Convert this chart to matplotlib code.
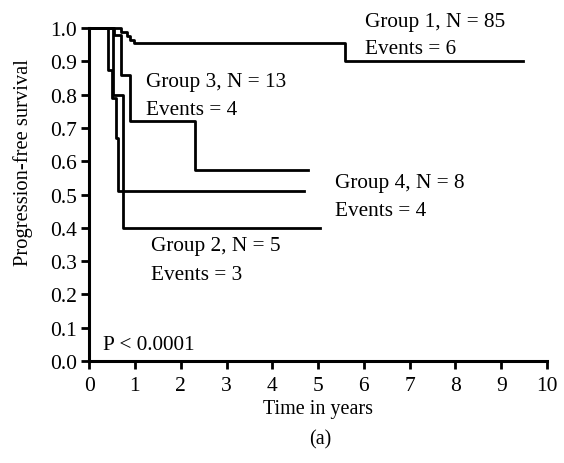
import matplotlib
matplotlib.use('Agg')
import matplotlib.pyplot as plt
import numpy as np

# Kaplan-Meier curves (time of step, survival after step)
g1_t = [0, 0.70, 0.82, 0.90, 0.97, 5.59, 9.48]
g1_s = [1.0, 0.988, 0.976, 0.964, 0.955, 0.90, 0.90]

g2_t = [0, 0.52, 0.74, 5.05]
g2_s = [1.0, 0.80, 0.40, 0.40]

g3_t = [0, 0.55, 0.69, 0.90, 2.31, 4.78]
g3_s = [1.0, 0.98, 0.86, 0.72, 0.575, 0.575]

g4_t = [0, 0.42, 0.50, 0.58, 0.62, 4.70]
g4_s = [1.0, 0.875, 0.79, 0.67, 0.51, 0.51]

curves = [(g1_t, g1_s), (g2_t, g2_s), (g3_t, g3_s), (g4_t, g4_s)]

labels = [
    ("Group 1, N = 85", "Events = 6", 6.03, 1.021, 0.937),
    ("Group 3, N = 13", "Events = 4", 1.25, 0.84, 0.754),
    ("Group 4, N = 8", "Events = 4", 5.37, 0.535, 0.453),
    ("Group 2, N = 5", "Events = 3", 1.35, 0.346, 0.261),
]

plt.rcParams['font.family'] = ['Liberation Serif', 'DejaVu Serif']

fig = plt.figure(figsize=(5.64, 4.64), dpi=100)
ax = fig.add_axes([0.158, 0.2198, 0.812, 0.7177])

for t, s in curves:
    ax.step(t, s, where='post', color='black', lw=2.0, clip_on=False)

fs = 15.3
for l1, l2, x, y1, y2 in labels:
    ax.text(x, y1, l1, fontsize=fs, va='center', ha='left', clip_on=False)
    ax.text(x, y2, l2, fontsize=fs, va='center', ha='left', clip_on=False)
ax.text(0.31, 0.051, "P < 0.0001", fontsize=fs, va='center', ha='left')

ax.set_xlim(0, 10)
ax.set_ylim(0, 1.0)
ax.set_xticks(range(0, 11))
ax.set_yticks(np.round(np.arange(0, 1.01, 0.1), 1))
ax.set_yticklabels([f"{v:.1f}" for v in np.arange(0, 1.01, 0.1)])
ax.tick_params(labelsize=15.5, width=2, length=6, direction='out', pad=2.5)
ax.tick_params(axis='x', pad=5)
ax.spines['top'].set_visible(False)
ax.spines['right'].set_visible(False)
ax.spines['left'].set_linewidth(2.2)
ax.spines['bottom'].set_linewidth(2.2)

ax.set_xlabel("Time in years", fontsize=14.5, labelpad=3)
fig.text(0.041, 1 - 163 / 464, "Progression-free survival", fontsize=14.8,
         rotation=90, ha='center', va='center')
fig.text(0.567, 1 - 440 / 464, "(a)", fontsize=14.5, ha='center', va='center')

plt.savefig("out.png", dpi=100, facecolor="white")
